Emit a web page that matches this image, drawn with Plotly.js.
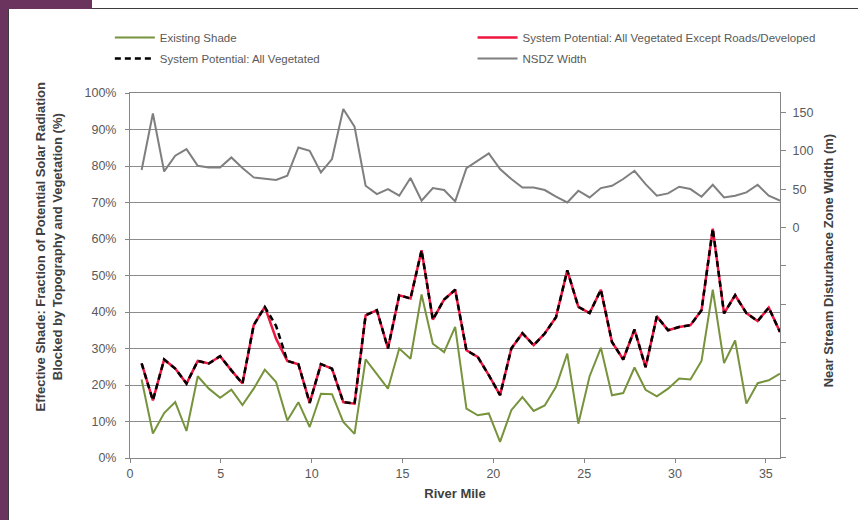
<!DOCTYPE html>
<html>
<head>
<meta charset="utf-8">
<script src="https://cdn.plot.ly/plotly-3.0.1.min.js"></script>
<style>
  html, body { margin: 0; padding: 0; background: #ffffff; }
  #wrap { position: relative; width: 868px; height: 520px; overflow: hidden; }
  #chart { position: absolute; left: 0; top: 0; width: 868px; height: 520px; }
  .band { position: absolute; background: #6b345f; }
  .rule { position: absolute; background: #3c3c3c; }
</style>
</head>
<body>
<div id="wrap">
  <div id="chart"></div>
  <div class="band" style="left:0;top:0;width:8px;height:520px"></div>
  <div class="band" style="left:0;top:0;width:92px;height:9px"></div>
  <div class="rule" style="left:92px;top:8px;width:766px;height:1px"></div>
  <div class="rule" style="left:8px;top:9px;width:1px;height:511px"></div>
</div>
<script>
// River mile of each sampled reach
const riverMile = [
  0.64, 1.26, 1.88, 2.49, 3.11, 3.73, 4.34, 4.96, 5.58, 6.19,
  6.81, 7.42, 8.04, 8.66, 9.27, 9.89, 10.51, 11.12, 11.74, 12.36,
  12.97, 13.59, 14.20, 14.82, 15.44, 16.05, 16.67, 17.29, 17.90, 18.52,
  19.14, 19.75, 20.37, 20.99, 21.60, 22.22, 22.83, 23.45, 24.07, 24.68,
  25.30, 25.92, 26.53, 27.15, 27.77, 28.38, 29.00, 29.62, 30.23, 30.85,
  31.46, 32.08, 32.70, 33.31, 33.93, 34.55, 35.16, 35.78
];

// Effective shade (%) - current conditions
const existingShade = [
  21.5, 6.7, 12.3, 15.3, 7.4, 22.4, 19.0, 16.5, 18.7, 14.5,
  19.0, 24.2, 20.8, 10.3, 15.3, 8.5, 17.6, 17.5, 9.9, 6.6,
  27.0, 23.1, 19.0, 30.0, 27.2, 44.8, 31.3, 29.0, 35.9, 13.5,
  11.7, 12.2, 4.4, 13.1, 16.7, 12.9, 14.4, 19.5, 28.6, 9.4,
  22.4, 30.2, 17.2, 17.8, 24.8, 18.7, 16.9, 19.0, 21.8, 21.5,
  26.6, 46.1, 26.0, 32.2, 14.9, 20.5, 21.3, 23.1
];

// Effective shade (%) - system potential, all vegetated except roads/developed
const potentialExceptRoads = [
  25.9, 15.8, 27.0, 24.5, 20.4, 26.6, 25.9, 27.9, 24.0, 20.4,
  36.4, 41.4, 32.7, 26.6, 25.7, 15.1, 25.7, 24.5, 15.3, 14.9,
  39.1, 40.5, 30.0, 44.6, 43.7, 56.9, 37.9, 43.4, 46.1, 29.5,
  27.7, 22.7, 17.2, 30.0, 34.2, 30.9, 34.1, 38.6, 51.4, 41.4,
  39.7, 46.1, 31.8, 27.0, 35.2, 24.9, 38.8, 35.0, 35.9, 36.4,
  40.5, 62.8, 39.6, 44.6, 39.7, 37.5, 41.2, 34.5
];

// Effective shade (%) - system potential, all vegetated
const potentialAllVeg = [
  25.9, 15.8, 27.0, 24.5, 20.4, 26.6, 25.9, 27.9, 24.0, 20.4,
  36.4, 41.4, 36.2, 26.6, 25.7, 15.1, 25.7, 24.5, 15.3, 14.9,
  39.1, 40.5, 30.0, 44.6, 43.7, 56.9, 37.9, 43.4, 46.1, 29.5,
  27.7, 22.7, 17.2, 30.0, 34.2, 30.9, 34.1, 38.6, 51.4, 41.4,
  39.7, 46.1, 31.8, 27.0, 35.2, 24.9, 38.8, 35.0, 35.9, 36.4,
  40.5, 62.8, 39.6, 44.6, 39.7, 37.5, 41.2, 34.5
];

// Near stream disturbance zone width (m)
const nsdzWidth = [
  74.9, 148.8, 73.1, 93.6, 102.3, 80.5, 78.3, 78.3, 91.4, 77.5,
  65.3, 63.2, 61.9, 67.5, 104.4, 100.1, 71.8, 89.3, 154.6, 131.5,
  54.4, 43.5, 50.1, 41.4, 64.5, 34.9, 51.4, 48.8, 34.0, 77.5,
  87.1, 96.6, 76.2, 63.2, 52.2, 52.2, 48.8, 40.1, 32.6, 47.9,
  39.2, 51.4, 54.4, 63.2, 74.0, 56.6, 41.4, 44.4, 53.1, 50.1,
  40.1, 55.7, 39.2, 41.4, 45.7, 55.7, 41.4, 34.9
];

// Axis ticks
const mileTicks = [0, 5, 10, 15, 20, 25, 30, 35];
const widthTickVals = [-300, -250, -200, -150, -100, -50, 0, 50, 100, 150];
const widthTickText = ['', '', '', '', '', '', '0', '50', '100', '150'];

const FONT = 'Liberation Sans, Arial, sans-serif';
const GRID = '#8c8c8c';
const TEXT = '#595959';

const traces = [
  {
    x: riverMile, y: nsdzWidth, yaxis: 'y2', type: 'scatter', mode: 'lines',
    name: 'NSDZ Width', legend: 'legend2', legendgroup: 'nsdz', legendrank: 2,
    line: { color: '#7f7f7f', width: 2 }
  },
  {
    x: riverMile, y: existingShade, type: 'scatter', mode: 'lines',
    name: 'Existing Shade', legend: 'legend', legendgroup: 'existing', legendrank: 1,
    line: { color: '#77933c', width: 2 }
  },
  {
    x: riverMile, y: potentialExceptRoads, type: 'scatter', mode: 'lines',
    name: 'System Potential: All Vegetated Except Roads/Developed',
    legend: 'legend2', legendgroup: 'roads', legendrank: 1,
    line: { color: '#ee1540', width: 2.5 }
  },
  {
    x: riverMile, y: potentialAllVeg, type: 'scatter', mode: 'lines',
    name: 'System Potential: All Vegetated', legend: 'legend',
    legendgroup: 'allveg', legendrank: 2,
    line: { color: '#000000', width: 2.5, dash: '6px,4px' }
  }
];

const legendCommon = {
  xanchor: 'left', yanchor: 'top', orientation: 'v',
  bgcolor: 'rgba(0,0,0,0)', borderwidth: 0,
  font: { family: FONT, size: 11.5, color: TEXT },
  itemwidth: 40, tracegroupgap: 2, traceorder: 'grouped'
};

const layout = {
  width: 868, height: 520,
  margin: { l: 130, r: 88, t: 93, b: 62 },
  paper_bgcolor: 'rgba(0,0,0,0)',
  plot_bgcolor: '#ffffff',
  font: { family: FONT, color: TEXT, size: 12 },
  showlegend: true,
  legend: Object.assign({ x: -0.031, y: 1.192 }, legendCommon),
  legend2: Object.assign({ x: 0.527, y: 1.192 }, legendCommon),
  xaxis: {
    range: [0, 35.78], tickvals: mileTicks,
    showgrid: false, zeroline: false,
    showline: true, linecolor: '#868686', linewidth: 1, mirror: true,
    ticks: 'outside', ticklen: 4, tickcolor: '#868686',
    tickfont: { family: FONT, size: 12.5, color: TEXT },
    title: { text: 'River Mile', standoff: 8,
      font: { family: FONT, size: 13, color: '#404040', weight: 'bold' } }
  },
  yaxis: {
    range: [0, 100], dtick: 10, tick0: 0, ticksuffix: '%',
    showgrid: true, gridcolor: GRID, gridwidth: 1, zeroline: false,
    showline: true, linecolor: '#868686', linewidth: 1, mirror: true,
    ticks: 'outside', ticklen: 4, tickcolor: '#868686',
    ticklabelstandoff: 6,
    tickfont: { family: FONT, size: 12.5, color: TEXT }
  },
  yaxis2: {
    overlaying: 'y', side: 'right', range: [-301, 175.5],
    tickvals: widthTickVals, ticktext: widthTickText,
    showgrid: false, zeroline: false, showline: false,
    ticks: 'outside', ticklen: 5, tickcolor: '#868686',
    ticklabelstandoff: 4,
    tickfont: { family: FONT, size: 12.5, color: TEXT }
  },
  annotations: [
    {
      xref: 'paper', yref: 'paper', x: -0.1246, y: 0.577,
      xanchor: 'center', yanchor: 'middle', textangle: -90, showarrow: false,
      text: 'Effective Shade: Fraction of Potential Solar Radiation<br>Blocked by Topography and Vegetation (%)',
      font: { family: FONT, size: 13, color: '#404040', weight: 'bold' }
    },
    {
      xref: 'paper', yref: 'paper', x: 1.0738, y: 0.5416,
      xanchor: 'center', yanchor: 'middle', textangle: -90, showarrow: false,
      text: 'Near Stream Disturbance Zone Width (m)',
      font: { family: FONT, size: 13, color: '#404040', weight: 'bold' }
    }
  ]
};

Plotly.newPlot('chart', traces, layout, { staticPlot: true, displayModeBar: false });
</script>
</body>
</html>
